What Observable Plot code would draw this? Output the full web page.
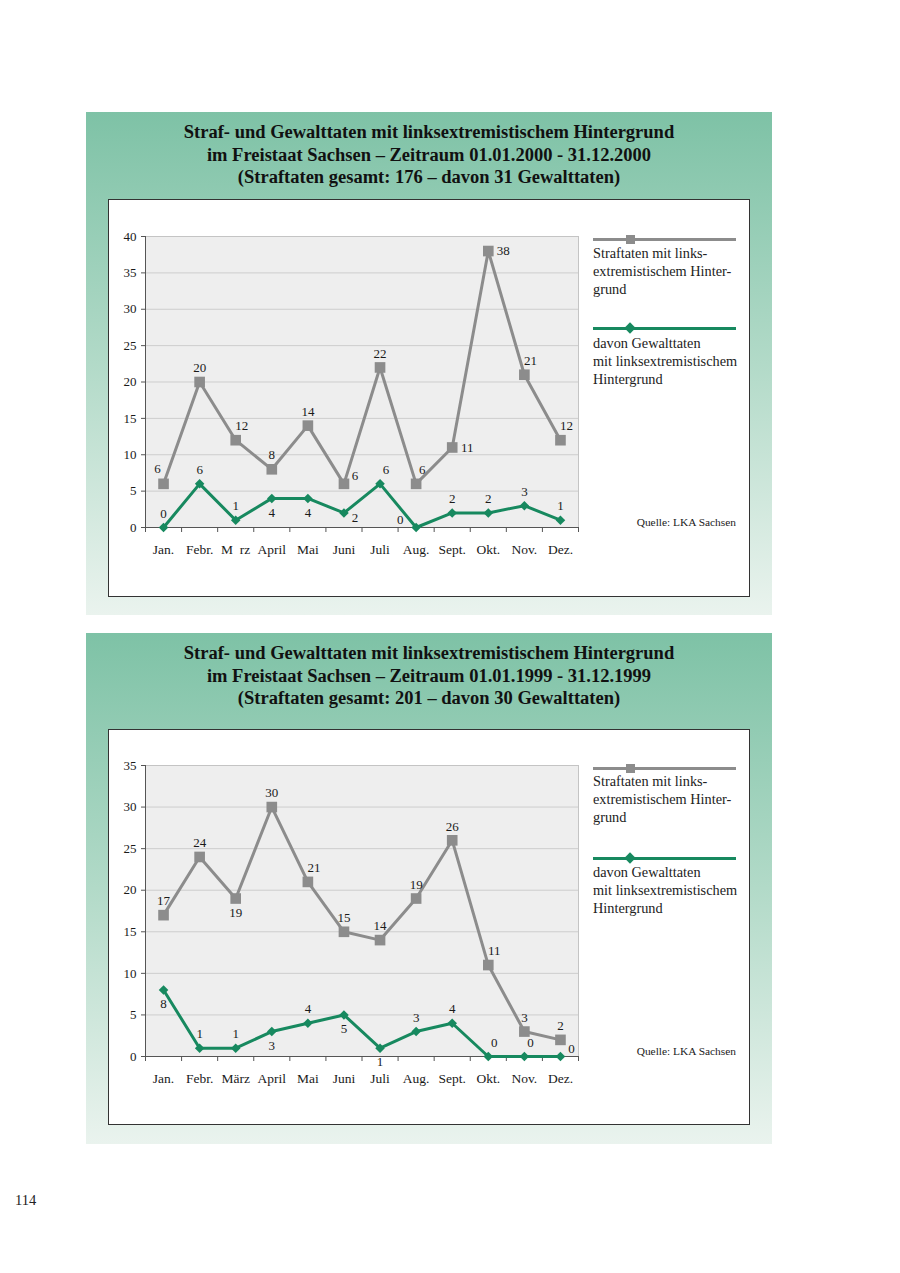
<!DOCTYPE html>
<html><head><meta charset="utf-8">
<script src="https://cdn.jsdelivr.net/npm/d3@7"></script>
<script src="https://cdn.jsdelivr.net/npm/@observablehq/plot@0.6"></script>
<style>
body{margin:0;width:900px;height:1273px;position:relative;background:#fff;font-family:"Liberation Serif",serif;color:#161616;overflow:hidden;}
.panel{position:absolute;left:86px;width:686px;background:linear-gradient(to bottom,#7ec2a6 0%,#b2dac8 50%,#eaf3ee 100%);}
.title{position:absolute;left:0;top:9px;width:100%;text-align:center;font-weight:bold;font-size:18.5px;line-height:22.5px;color:#111;}
.box{position:absolute;left:108px;width:642px;background:#fff;border:1px solid #333;box-sizing:border-box;}
.chart{position:absolute;left:108px;}
.legline{position:absolute;left:593px;width:143px;height:3px;}
.sq{position:absolute;width:9px;height:9px;background:#8c8c8c;}
.dia{position:absolute;width:8px;height:8px;background:#17895f;transform:rotate(45deg);}
.legtext{position:absolute;left:593px;font-size:14.3px;line-height:17.8px;color:#222;}
.quelle{position:absolute;right:164px;font-size:11.4px;color:#222;}
.pnum{position:absolute;left:15px;top:1192px;font-size:14.5px;color:#222;}
</style></head>
<body>
<div class="panel" style="top:112px;height:503px;">
  <div class="title">Straf- und Gewalttaten mit linksextremistischem Hintergrund<br>im Freistaat Sachsen – Zeitraum 01.01.2000 - 31.12.2000<br>(Straftaten gesamt: 176 – davon 31 Gewalttaten)</div>
</div>
<div class="box" style="top:199px;height:398px;"></div>
<div class="chart" id="c2000" style="top:199px;"></div>
<div class="legline" style="top:238px;background:#8c8c8c;"></div>
<div class="sq" style="left:626px;top:235px;"></div>
<div class="legtext" style="top:245px;">Straftaten mit links-<br>extremistischem Hinter-<br>grund</div>
<div class="legline" style="top:327px;background:#17895f;"></div>
<div class="dia" style="left:626px;top:324px;"></div>
<div class="legtext" style="top:335px;">davon Gewalttaten<br>mit linksextremistischem<br>Hintergrund</div>
<div class="quelle" style="top:516px;">Quelle: LKA Sachsen</div>

<div class="panel" style="top:633px;height:511px;">
  <div class="title">Straf- und Gewalttaten mit linksextremistischem Hintergrund<br>im Freistaat Sachsen – Zeitraum 01.01.1999 - 31.12.1999<br>(Straftaten gesamt: 201 – davon 30 Gewalttaten)</div>
</div>
<div class="box" style="top:729px;height:396px;"></div>
<div class="chart" id="c1999" style="top:729px;"></div>
<div class="legline" style="top:767px;background:#8c8c8c;"></div>
<div class="sq" style="left:626px;top:764px;"></div>
<div class="legtext" style="top:773px;">Straftaten mit links-<br>extremistischem Hinter-<br>grund</div>
<div class="legline" style="top:857px;background:#17895f;"></div>
<div class="dia" style="left:626px;top:854px;"></div>
<div class="legtext" style="top:864px;">davon Gewalttaten<br>mit linksextremistischem<br>Hintergrund</div>
<div class="quelle" style="top:1045px;">Quelle: LKA Sachsen</div>

<div class="pnum">114</div>

<script>
// ---- data ----
const months2000 = ["Jan.","Febr.","M\u2002rz","April","Mai","Juni","Juli","Aug.","Sept.","Okt.","Nov.","Dez."];
const months1999 = ["Jan.","Febr.","März","April","Mai","Juni","Juli","Aug.","Sept.","Okt.","Nov.","Dez."];
const straf2000  = [6,20,12,8,14,6,22,6,11,38,21,12];
const gewalt2000 = [0,6,1,4,4,2,6,0,2,2,3,1];
const straf1999  = [17,24,19,30,21,15,14,19,26,11,3,2];
const gewalt1999 = [8,1,1,3,4,5,1,3,4,0,0,0];
const yTicks2000 = [0,5,10,15,20,25,30,35,40];
const yTicks1999 = [0,5,10,15,20,25,30,35];

// ---- label placement (style) ----
const labelOffsets = {t:[0,-14], b:[0,14], tr:[6,-14], tl:[-6,-15], r:[15,0], rt:[11,-8], lt:[-16,-8], br:[11,5]};
const placeA2000 = ["tl","t","tr","t","t","rt","t","tr","r","r","tr","tr"];
const placeB2000 = ["t","t","t","b","b","br","tr","lt","t","t","t","t"];
const placeA1999 = ["t","t","b","t","tr","t","t","t","t","tr","t","t"];
const placeB1999 = ["b","t","t","b","t","b","b","t","t","tr","tr","rt"];

const GRAY = "#8c8c8c", GREEN = "#17895f";

function drawChart(el, {months, straf, gewalt, yTicks, placeA, placeB, mTop, mBottom}) {
  const yMax = yTicks[yTicks.length - 1];
  const A = months.map((m, i) => ({i, v: straf[i], p: placeA[i]}));
  const B = months.map((m, i) => ({i, v: gewalt[i], p: placeB[i]}));
  const xf = d => d.i + 0.5;
  const labels = [];
  for (const [code, [dx, dy]] of Object.entries(labelOffsets)) {
    for (const D of [A, B]) {
      const sub = D.filter(d => d.p === code);
      if (sub.length) labels.push(Plot.text(sub, {x: xf, y: "v", text: d => String(d.v), dx, dy, fontSize: 13, fill: "#1a1a1a"}));
    }
  }
  const svg = Plot.plot({
    width: 480, height: 380,
    marginLeft: 37, marginRight: 10, marginTop: mTop, marginBottom: mBottom,
    style: {fontFamily: '"Liberation Serif", serif', fontSize: "13px", background: "transparent", color: "#1a1a1a"},
    x: {domain: [0, 12]},
    y: {domain: [0, yMax]},
    marks: [
      Plot.frame({fill: "#eeeeee", stroke: "#c4c4c4"}),
      Plot.gridY(yTicks.filter(t => t > 0 && t < yMax), {stroke: "#cdcdcd", strokeOpacity: 1}),
      Plot.ruleX([0], {stroke: "#555"}),
      Plot.ruleY([0], {stroke: "#555"}),
      Plot.axisY(yTicks, {tickSize: 4, tickPadding: 5, fontSize: 13, stroke: "#555", label: null}),
      Plot.axisX(d3.range(0, 13), {tickSize: 5, tickFormat: () => "", stroke: "#555", label: null}),
      Plot.axisX(months.map((m, i) => i + 0.5), {tickSize: 0, tickPadding: 17, tickFormat: t => months[Math.floor(t)], fontSize: 13.5, label: null}),
      Plot.line(A, {x: xf, y: "v", stroke: GRAY, strokeWidth: 3}),
      Plot.dot(A, {x: xf, y: "v", symbol: "square", r: 6, fill: GRAY, stroke: "none"}),
      Plot.line(B, {x: xf, y: "v", stroke: GREEN, strokeWidth: 3}),
      Plot.dot(B, {x: xf, y: "v", symbol: "diamond2", r: 4.3, fill: GREEN, stroke: "none"}),
      ...labels
    ]
  });
  el.appendChild(svg);
}

drawChart(document.getElementById("c2000"), {months: months2000, straf: straf2000, gewalt: gewalt2000, yTicks: yTicks2000, placeA: placeA2000, placeB: placeB2000, mTop: 37, mBottom: 52});
drawChart(document.getElementById("c1999"), {months: months1999, straf: straf1999, gewalt: gewalt1999, yTicks: yTicks1999, placeA: placeA1999, placeB: placeB1999, mTop: 36, mBottom: 53});
</script>
</body></html>
